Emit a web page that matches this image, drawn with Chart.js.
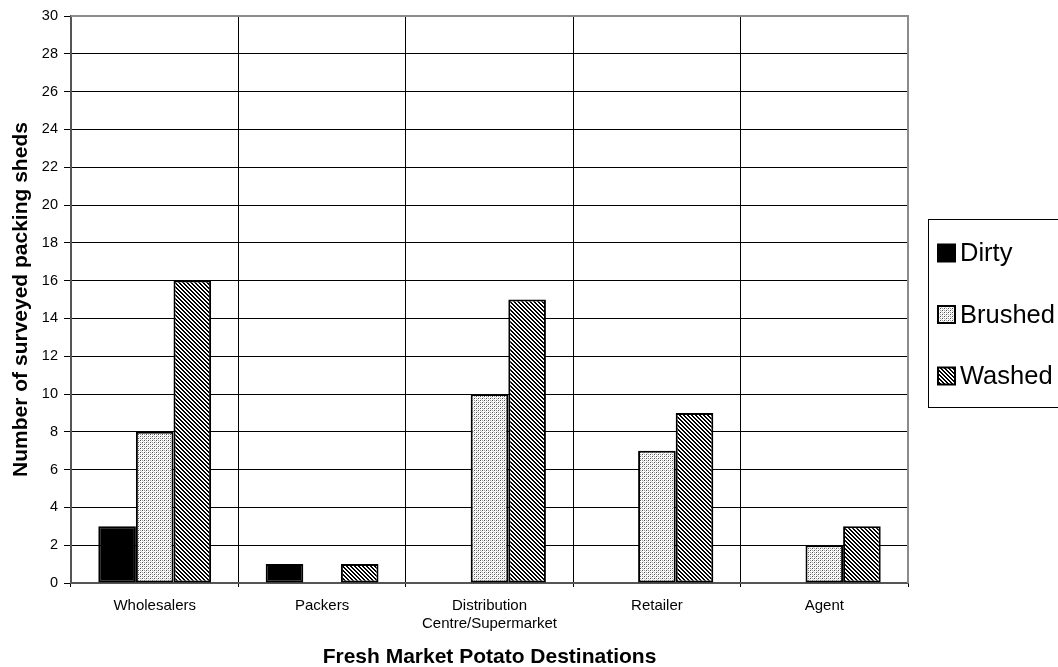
<!DOCTYPE html>
<html>
<head>
<meta charset="utf-8">
<script src="https://cdn.jsdelivr.net/npm/chart.js@4.4.1/dist/chart.umd.min.js"></script>
<style>
  html, body { margin: 0; padding: 0; background: #fff; }
  #wrap { width: 1058px; height: 667px; position: relative; }
</style>
</head>
<body>
<div id="wrap"><canvas id="c" width="1058" height="667"></canvas></div>
<script>
// Destinations of fresh market potatoes, by packing shed treatment
const categories = ['Wholesalers', 'Packers', ['Distribution', 'Centre/Supermarket'], 'Retailer', 'Agent'];
const dirty   = [3, 1, null, null, null];
const brushed = [8, null, 10, 7, 2];
const washed  = [16, 1, 15, 9, 3];
const yTicks  = [0, 2, 4, 6, 8, 10, 12, 14, 16, 18, 20, 22, 24, 26, 28, 30];
const xTitle  = 'Fresh Market Potato Destinations';
const yTitle  = 'Number of surveyed packing sheds';

const FONT = 'Arial, "Liberation Sans", sans-serif';

// Fine stipple fill for brushed sheds
function stipplePattern() {
  const t = document.createElement('canvas');
  t.width = 4; t.height = 4;
  const g = t.getContext('2d');
  g.fillStyle = '#fff'; g.fillRect(0, 0, 4, 4);
  g.fillStyle = '#505050';
  g.fillRect(0, 0, 1, 1);
  g.fillRect(2, 2, 1, 1);
  g.fillStyle = '#a0a0a0';
  g.fillRect(2, 0, 1, 1);
  g.fillRect(0, 2, 1, 1);
  g.fillStyle = '#d0d0d0';
  g.fillRect(1, 3, 1, 1);
  g.fillRect(3, 1, 1, 1);
  return g.createPattern(t, 'repeat');
}

// Dense diagonal hatching for washed sheds
function hatchPattern() {
  const t = document.createElement('canvas');
  t.width = 4; t.height = 4;
  const g = t.getContext('2d');
  g.fillStyle = '#fff'; g.fillRect(0, 0, 4, 4);
  g.fillStyle = '#000';
  for (let y = 0; y < 4; y++) {
    for (let x = 0; x < 4; x++) {
      const d = ((x - y) % 4 + 4) % 4;
      if (d === 0 || d === 1) g.fillRect(x, y, 1, 1);
    }
  }
  return g.createPattern(t, 'repeat');
}

const ctx = document.getElementById('c').getContext('2d');
const fills = ['#000', stipplePattern(), hatchPattern()];

// Plot frame (top and right edges), axis titles and the boxed legend
const framePlugin = {
  id: 'frameAndLegend',
  afterDraw(chart) {
    const { ctx: c, chartArea: a } = chart;
    c.save();
    c.strokeStyle = '#8c8c8c';
    c.lineWidth = 2;
    c.beginPath();
    c.moveTo(a.left, a.top);
    c.lineTo(a.right, a.top);
    c.lineTo(a.right, a.bottom);
    c.stroke();

    // axis titles
    c.fillStyle = '#000';
    c.font = 'bold 21px ' + FONT;
    c.textAlign = 'center';
    c.textBaseline = 'middle';
    c.fillText(xTitle, (a.left + a.right) / 2, 657);
    c.save();
    c.translate(21, (a.top + a.bottom) / 2);
    c.rotate(-Math.PI / 2);
    c.fillText(yTitle, 0, 0);
    c.restore();

    // legend
    const bx = 928.5, by = 219.5, bw = 140, bh = 188;
    c.fillStyle = '#fff';
    c.fillRect(bx, by, bw, bh);
    c.strokeStyle = '#000';
    c.lineWidth = 1;
    c.strokeRect(bx, by, bw, bh);
    c.font = '25.5px ' + FONT;
    c.textBaseline = 'middle';
    c.textAlign = 'left';
    chart.data.datasets.forEach((ds, i) => {
      const cy = 253 + i * 61.5;
      c.fillStyle = ds.backgroundColor;
      c.fillRect(938, cy - 8.5, 17, 17);
      c.strokeStyle = '#000';
      c.lineWidth = 2;
      c.strokeRect(938, cy - 8.5, 17, 17);
      c.fillStyle = '#000';
      c.fillText(ds.label, 960, cy + 1);
    });
    c.restore();
  }
};

new Chart(ctx, {
  type: 'bar',
  data: {
    labels: categories,
    datasets: [
      { label: 'Dirty',   data: dirty,   backgroundColor: fills[0] },
      { label: 'Brushed', data: brushed, backgroundColor: fills[1] },
      { label: 'Washed',  data: washed,  backgroundColor: fills[2] }
    ].map(d => Object.assign(d, {
      borderColor: '#000',
      borderWidth: 2,
      borderSkipped: false,
      categoryPercentage: 0.674,
      barPercentage: 1.0
    }))
  },
  options: {
    responsive: false,
    animation: false,
    devicePixelRatio: 1,
    layout: { padding: { top: 16, right: 150, left: 0, bottom: 0 } },
    plugins: {
      legend: { display: false },
      tooltip: { enabled: false }
    },
    scales: {
      x: {
        offset: true,
        grid: {
          offset: true,
          color: '#000',
          lineWidth: 1,
          drawTicks: true,
          tickLength: 4,
          tickColor: '#000'
        },
        border: { display: true, color: '#555', width: 2 },
        ticks: {
          color: '#000',
          font: { family: FONT, size: 15, lineHeight: 1.2 },
          padding: 10,
          maxRotation: 0,
          autoSkip: false
        },
        afterFit(s) { s.height = 84; }
      },
      y: {
        min: 0,
        max: 30,
        afterBuildTicks(s) { s.ticks = yTicks.map(v => ({ value: v })); },
        grid: {
          color: '#000',
          lineWidth: 1,
          drawTicks: true,
          tickLength: 7,
          tickColor: '#000'
        },
        border: { display: true, color: '#555', width: 2 },
        ticks: {
          color: '#000',
          font: { family: FONT, size: 14.5 },
          padding: 6
        },
        afterFit(s) { s.width = 71; }
      }
    }
  },
  plugins: [framePlugin]
});
</script>
</body>
</html>
